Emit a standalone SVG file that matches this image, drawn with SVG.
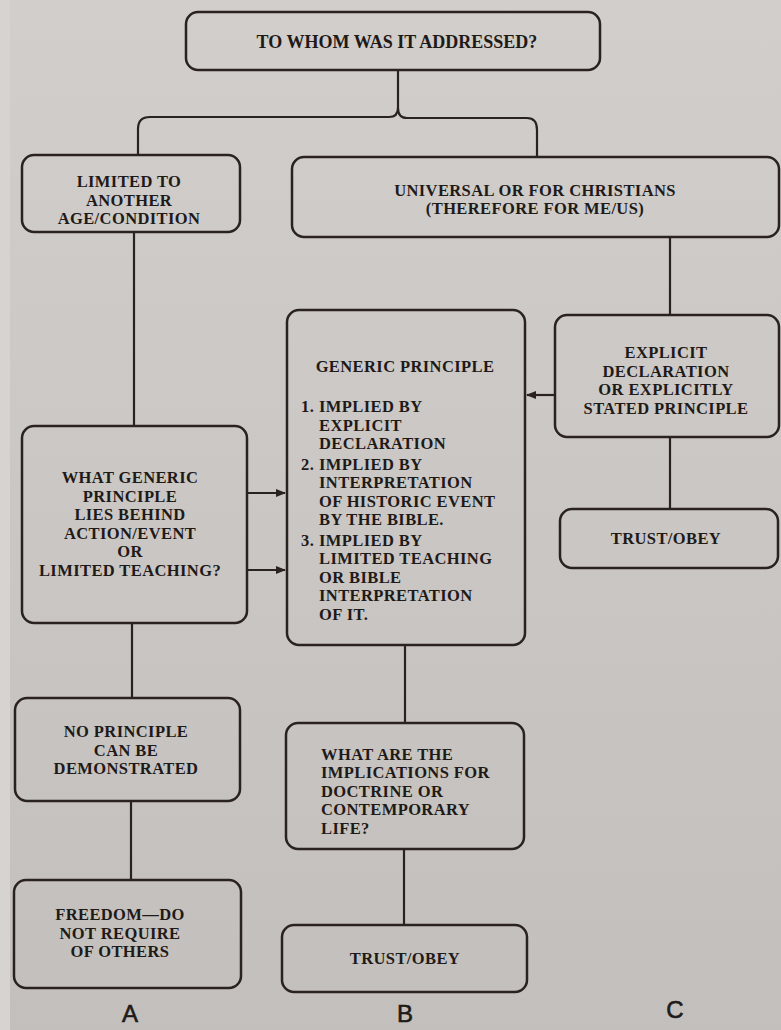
<svg xmlns="http://www.w3.org/2000/svg" width="781" height="1030" viewBox="0 0 781 1030">
<defs>
<linearGradient id="bg" x1="0" y1="0" x2="0" y2="1">
<stop offset="0" stop-color="#d2cecb"/>
<stop offset="1" stop-color="#c3bfbc"/>
</linearGradient>
<marker id="ah" markerWidth="10" markerHeight="10" refX="9" refY="5" orient="auto" markerUnits="userSpaceOnUse">
<path d="M0,1 L10,5 L0,9 Z" fill="#2a2220"/>
</marker>
<style>
.box{fill:none;stroke:#2a2220;stroke-width:2.5}
.ln{fill:none;stroke:#2a2220;stroke-width:2.2}
text{font-family:"Liberation Serif","Times New Roman",serif;font-weight:bold;font-size:16.5px;letter-spacing:0.4px;fill:#1e1a18}
.c{text-anchor:middle}
.lab{font-family:"Liberation Sans",Arial,sans-serif;font-weight:normal;font-size:24px;letter-spacing:0;stroke:#1e1a18;stroke-width:0.6}
</style>
</defs>
<rect x="0" y="0" width="781" height="1030" fill="url(#bg)"/>
<rect x="0" y="0" width="10" height="1030" fill="#d6d3d0"/>

<g id="connectors">
<path class="ln" d="M398,70 V108 Q398,117 389,117 H150 Q138,117 138,129 V155"/>
<path class="ln" d="M398,108 Q398,118 407,118 H527 Q537,118 537,130 V157"/>
<path class="ln" d="M670,237 V315"/>
<path class="ln" d="M134,232 V426"/>
<path class="ln" d="M247,493 H285" marker-end="url(#ah)"/>
<path class="ln" d="M247,570 H285" marker-end="url(#ah)"/>
<path class="ln" d="M555,395 H527" marker-end="url(#ah)"/>
<path class="ln" d="M670,437 V509"/>
<path class="ln" d="M132,623 V698"/>
<path class="ln" d="M131,801 V880"/>
<path class="ln" d="M405,645 V723"/>
<path class="ln" d="M404,849 V925"/>
</g>

<g id="n-top">
<rect class="box" x="186" y="12" width="414" height="58" rx="12"/>
<text class="c" x="397" y="48" style="font-size:18px;letter-spacing:0">TO WHOM WAS IT ADDRESSED?</text>
</g>

<g id="n-limited">
<rect class="box" x="22" y="155" width="218" height="77" rx="12"/>
<text class="c"><tspan x="129" y="187">LIMITED TO</tspan><tspan x="129" y="205.5">ANOTHER</tspan><tspan x="129" y="224">AGE/CONDITION</tspan></text>
</g>

<g id="n-universal">
<rect class="box" x="292" y="157" width="487" height="80" rx="12"/>
<text class="c"><tspan x="535" y="195.5">UNIVERSAL OR FOR CHRISTIANS</tspan><tspan x="535" y="214">(THEREFORE FOR ME/US)</tspan></text>
</g>

<g id="n-generic">
<rect class="box" x="287" y="310" width="238" height="335" rx="12"/>
<text class="c" x="405" y="372">GENERIC PRINCIPLE</text>
<text><tspan x="301" y="412">1.</tspan><tspan x="319" y="412">IMPLIED BY</tspan><tspan x="319" y="430.5">EXPLICIT</tspan><tspan x="319" y="449">DECLARATION</tspan><tspan x="301" y="469.5">2.</tspan><tspan x="319" y="469.5">IMPLIED BY</tspan><tspan x="319" y="488">INTERPRETATION</tspan><tspan x="319" y="506.5">OF HISTORIC EVENT</tspan><tspan x="319" y="525">BY THE BIBLE.</tspan><tspan x="301" y="545.5">3.</tspan><tspan x="319" y="545.5">IMPLIED BY</tspan><tspan x="319" y="564">LIMITED TEACHING</tspan><tspan x="319" y="582.5">OR BIBLE</tspan><tspan x="319" y="601">INTERPRETATION</tspan><tspan x="319" y="619.5">OF IT.</tspan></text>
</g>

<g id="n-explicit">
<rect class="box" x="555" y="315" width="224" height="122" rx="12"/>
<text class="c"><tspan x="666" y="358">EXPLICIT</tspan><tspan x="666" y="376.5">DECLARATION</tspan><tspan x="666" y="395">OR EXPLICITLY</tspan><tspan x="666" y="413.5">STATED PRINCIPLE</tspan></text>
</g>

<g id="n-trust-c">
<rect class="box" x="560" y="509" width="218" height="59" rx="12"/>
<text class="c" x="666" y="544">TRUST/OBEY</text>
</g>

<g id="n-what-generic">
<rect class="box" x="22" y="426" width="225" height="197" rx="12"/>
<text class="c"><tspan x="130" y="483">WHAT GENERIC</tspan><tspan x="130" y="501.5">PRINCIPLE</tspan><tspan x="130" y="520">LIES BEHIND</tspan><tspan x="130" y="538.5">ACTION/EVENT</tspan><tspan x="130" y="557">OR</tspan><tspan x="130" y="575.5">LIMITED TEACHING?</tspan></text>
</g>

<g id="n-no-principle">
<rect class="box" x="15" y="698" width="225" height="103" rx="12"/>
<text class="c"><tspan x="126" y="737">NO PRINCIPLE</tspan><tspan x="126" y="755.5">CAN BE</tspan><tspan x="126" y="774">DEMONSTRATED</tspan></text>
</g>

<g id="n-freedom">
<rect class="box" x="14" y="880" width="227" height="108" rx="12"/>
<text class="c"><tspan x="120" y="920">FREEDOM—DO</tspan><tspan x="120" y="938.5">NOT REQUIRE</tspan><tspan x="120" y="957">OF OTHERS</tspan></text>
</g>

<g id="n-implications">
<rect class="box" x="286" y="723" width="238" height="126" rx="12"/>
<text><tspan x="321" y="759.5">WHAT ARE THE</tspan><tspan x="321" y="778">IMPLICATIONS FOR</tspan><tspan x="321" y="796.5">DOCTRINE OR</tspan><tspan x="321" y="815">CONTEMPORARY</tspan><tspan x="321" y="833.5">LIFE?</tspan></text>
</g>

<g id="n-trust-b">
<rect class="box" x="282" y="925" width="245" height="67" rx="12"/>
<text class="c" x="405" y="964">TRUST/OBEY</text>
</g>

<g id="labels">
<text class="c lab" x="130" y="1022">A</text>
<text class="c lab" x="405" y="1022">B</text>
<text class="c lab" x="675" y="1018">C</text>
</g>
</svg>
